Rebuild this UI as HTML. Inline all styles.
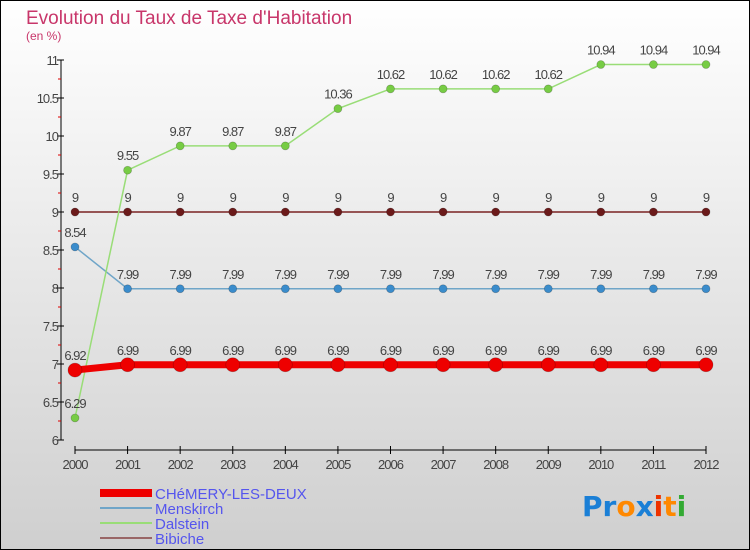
<!DOCTYPE html>
<html><head><meta charset="utf-8"><style>
body{margin:0}
svg{display:block;font-family:"Liberation Sans",sans-serif}
</style></head><body>
<svg id="c" width="750" height="550" xmlns="http://www.w3.org/2000/svg">
<defs><linearGradient id="bg" x1="0" y1="0" x2="0" y2="1"><stop offset="0" stop-color="#ffffff"/><stop offset="1" stop-color="#cfcfcf"/></linearGradient></defs>
<rect x="0.5" y="0.5" width="749" height="549" fill="url(#bg)" stroke="#000"/>
<text x="26" y="24" font-size="19" fill="#c8366a">Evolution du Taux de Taxe d'Habitation</text>
<text x="26" y="40" font-size="12" fill="#c8366a">(en %)</text>
<g id="axes"></g><g id="series"></g>
<g>
<rect x="100" y="489" width="52" height="8" fill="#e00"/>
<text x="155" y="499" font-size="15" fill="#5555ee">CHéMERY-LES-DEUX</text>
<line x1="100" y1="508" x2="152" y2="508" stroke="#6fa5c8" stroke-width="2"/>
<text x="155" y="514" font-size="15" fill="#5555ee">Menskirch</text>
<line x1="100" y1="523" x2="152" y2="523" stroke="#99dd77" stroke-width="2"/>
<text x="155" y="529" font-size="15" fill="#5555ee">Dalstein</text>
<line x1="100" y1="538" x2="152" y2="538" stroke="#996666" stroke-width="2"/>
<text x="155" y="544" font-size="15" fill="#5555ee">Bibiche</text>
</g>
<text x="582" y="516" font-size="28" font-weight="bold" font-family="'DejaVu Sans',sans-serif"><tspan fill="#1a7fd6">Pr</tspan><tspan fill="#ff8800">o</tspan><tspan fill="#1a7fd6">x</tspan><tspan fill="#ee3300">i</tspan><tspan fill="#ff8800">t</tspan><tspan fill="#33aa33">i</tspan></text>
</svg>
<script>
const years=[2000,2001,2002,2003,2004,2005,2006,2007,2008,2009,2010,2011,2012];
const chemery=[6.92,6.99,6.99,6.99,6.99,6.99,6.99,6.99,6.99,6.99,6.99,6.99,6.99];
const menskirch=[8.54,7.99,7.99,7.99,7.99,7.99,7.99,7.99,7.99,7.99,7.99,7.99,7.99];
const dalstein=[6.29,9.55,9.87,9.87,9.87,10.36,10.62,10.62,10.62,10.62,10.94,10.94,10.94];
const bibiche=[9,9,9,9,9,9,9,9,9,9,9,9,9];
const yTicks=[6,6.5,7,7.5,8,8.5,9,9.5,10,10.5,11];
const NS="http://www.w3.org/2000/svg";
const x=i=>75+i*(706-75)/(years.length-1);
const y=v=>440-(v-6)*76;
function mk(t,a,p){const e=document.createElementNS(NS,t);for(const k in a)e.setAttribute(k,a[k]);p.appendChild(e);return e;}
const ax=document.getElementById('axes'), sg=document.getElementById('series');
let l=mk('line',{x1:61,y1:60,x2:61,y2:440,stroke:'#000'},ax);


yTicks.forEach((v,i)=>{
  mk('line',{x1:57,y1:y(v),x2:64,y2:y(v),stroke:'#000'},ax);
  if(i<yTicks.length-1) mk('line',{x1:58,y1:y(v+0.25),x2:61,y2:y(v+0.25),stroke:'#d00'},ax);
  const t=mk('text',{x:58,y:y(v)+5,'text-anchor':'end','font-size':13,fill:'#444','letter-spacing':'-1'},ax);
  t.textContent=String(v);
  
  
});
l=mk('line',{x1:75,y1:450,x2:706,y2:450,stroke:'#000'},ax);


years.forEach((yr,i)=>{
  mk('line',{x1:x(i),y1:446,x2:x(i),y2:454,stroke:'#000'},ax);
  const t=mk('text',{x:x(i),y:469,'text-anchor':'middle','font-size':13,fill:'#444','letter-spacing':'-1'},ax);
  t.textContent=String(yr);
  
  
});
function series(name,data,line,dot,w,r){
  const g=mk('g',{},sg);
  
  
  mk('polyline',{points:data.map((v,i)=>x(i)+','+y(v)).join(' '),fill:'none',stroke:line,'stroke-width':w},g);
  data.forEach((v,i)=>{
    const c=mk('circle',{cx:x(i),cy:y(v),r:r,fill:dot,stroke:'rgba(0,0,0,0.25)','stroke-width':0.7},g);
    
    
    const t=mk('text',{x:x(i),y:y(v)-10,'text-anchor':'middle','font-size':13,fill:'#444','letter-spacing':'-1'},g);
    t.textContent=String(v);
    
    
  });
}
series('bibiche',bibiche,'#7a2222','#6b1a1a',1.5,4);
series('menskirch',menskirch,'#6fa5c8','#3a8ccc',1.5,4);
series('dalstein',dalstein,'#99dd77','#77cc44',1.5,4);
series('chemery',chemery,'#e00','#e00',7,7);
</script>
</body></html>
